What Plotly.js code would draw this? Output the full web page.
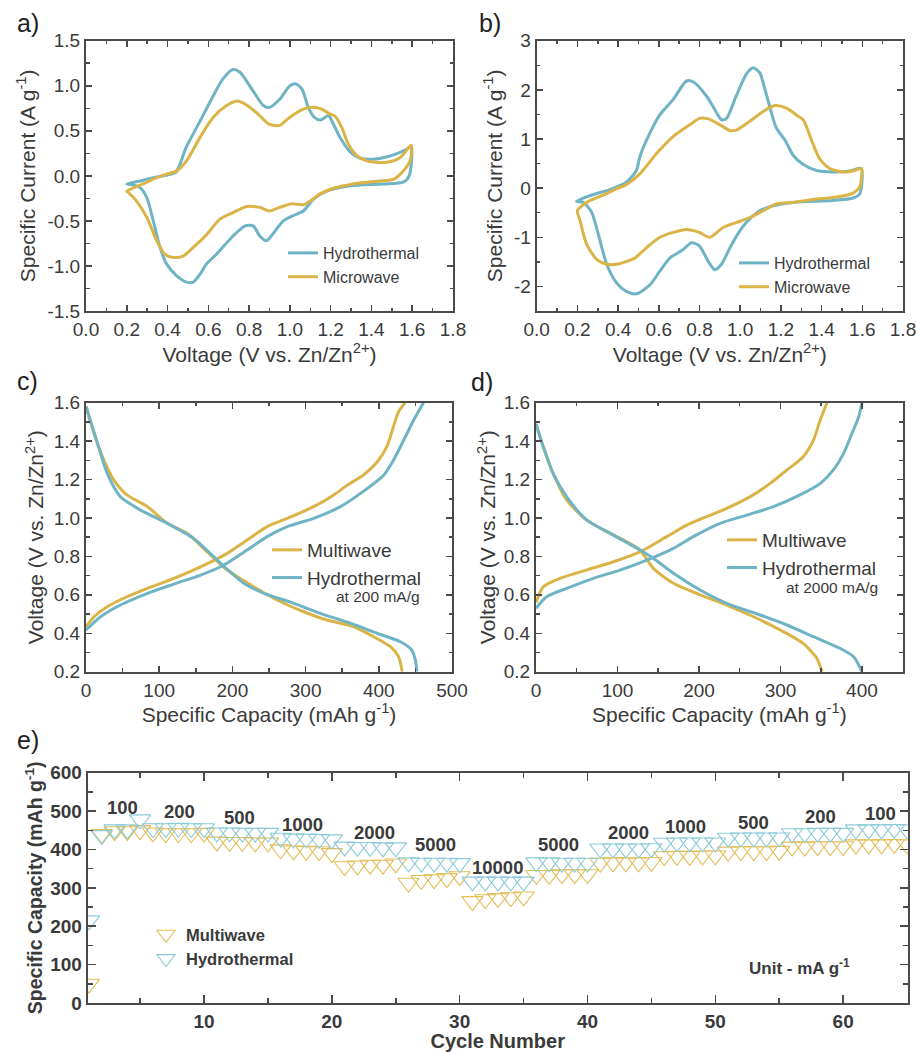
<!DOCTYPE html>
<html><head><meta charset="utf-8">
<script src="https://cdn.plot.ly/plotly-3.0.1.min.js"></script>
<style>html,body{margin:0;padding:0;background:#fff}#chart{width:917px;height:1052px}</style>
</head><body><div id="chart"></div>
<script>
// ---------- Panel a: CV (scan 1) ----------
const aHydroV = [0.20,0.26,0.33,0.40,0.44,0.461,0.49,0.56,0.62,0.67,0.72,0.755,0.82,0.87,0.90,0.95,1.00,1.03,1.06,1.09,1.12,1.15,1.19,1.21,1.245,1.29,1.34,1.41,1.49,1.56,1.595,1.585,1.556,1.46,1.295,1.18,1.115,1.066,1.017,0.968,0.935,0.886,0.853,0.82,0.78,0.72,0.64,0.59,0.56,0.526,0.494,0.445,0.396,0.363,0.33,0.298,0.265,0.23,0.20];
const aHydroI = [-0.09,-0.06,-0.02,0.01,0.04,0.13,0.31,0.61,0.87,1.07,1.18,1.15,0.94,0.78,0.76,0.85,1.00,1.02,0.96,0.76,0.65,0.62,0.67,0.59,0.43,0.28,0.20,0.185,0.22,0.28,0.32,0.0,-0.07,-0.09,-0.11,-0.17,-0.26,-0.39,-0.44,-0.50,-0.59,-0.72,-0.67,-0.555,-0.555,-0.67,-0.87,-0.98,-1.09,-1.18,-1.18,-1.11,-0.98,-0.795,-0.50,-0.24,-0.13,-0.10,-0.09];
const aMicroV = [0.20,0.28,0.347,0.396,0.445,0.494,0.56,0.624,0.69,0.74,0.77,0.837,0.90,0.95,1.00,1.066,1.115,1.156,1.197,1.22,1.254,1.287,1.33,1.39,1.475,1.54,1.595,1.59,1.556,1.507,1.425,1.31,1.21,1.148,1.10,1.066,1.01,0.95,0.90,0.853,0.788,0.72,0.657,0.592,0.526,0.477,0.428,0.387,0.347,0.298,0.248,0.208,0.20];
const aMicroI = [-0.17,-0.09,-0.02,0.02,0.055,0.17,0.43,0.65,0.78,0.83,0.81,0.70,0.57,0.56,0.65,0.74,0.76,0.74,0.685,0.665,0.54,0.35,0.22,0.16,0.15,0.20,0.34,0.17,0.055,-0.04,-0.06,-0.09,-0.14,-0.20,-0.28,-0.32,-0.31,-0.35,-0.39,-0.35,-0.34,-0.41,-0.48,-0.65,-0.795,-0.89,-0.906,-0.87,-0.72,-0.46,-0.28,-0.185,-0.17];

// ---------- Panel b: CV (scan 2) ----------
const bHydroV = [0.196,0.278,0.36,0.44,0.49,0.507,0.556,0.605,0.67,0.736,0.77,0.835,0.875,0.908,0.933,0.98,1.03,1.064,1.096,1.113,1.145,1.178,1.22,1.26,1.31,1.375,1.456,1.54,1.595,1.587,1.555,1.456,1.26,1.16,1.096,1.03,0.998,0.95,0.908,0.875,0.843,0.80,0.76,0.72,0.655,0.605,0.556,0.49,0.44,0.393,0.344,0.303,0.27,0.229,0.196];
const bHydroI = [-0.27,-0.13,-0.03,0.12,0.36,0.64,1.12,1.49,1.80,2.18,2.16,1.87,1.60,1.39,1.42,1.87,2.32,2.45,2.35,2.14,1.66,1.22,0.98,0.67,0.48,0.36,0.33,0.35,0.40,-0.12,-0.20,-0.25,-0.29,-0.36,-0.46,-0.70,-0.87,-1.21,-1.55,-1.66,-1.49,-1.18,-1.11,-1.25,-1.42,-1.69,-1.97,-2.15,-2.10,-1.93,-1.55,-0.94,-0.49,-0.29,-0.27];
const bMicroV = [0.20,0.245,0.327,0.393,0.44,0.507,0.59,0.67,0.753,0.80,0.843,0.90,0.95,0.98,1.047,1.113,1.17,1.227,1.276,1.31,1.35,1.39,1.44,1.505,1.563,1.595,1.587,1.555,1.473,1.34,1.26,1.178,1.113,1.047,0.98,0.916,0.85,0.80,0.736,0.67,0.605,0.54,0.483,0.442,0.393,0.344,0.295,0.245,0.213,0.20];
const bMicroI = [-0.46,-0.29,-0.14,-0.01,0.07,0.29,0.71,1.05,1.29,1.42,1.41,1.29,1.17,1.18,1.36,1.56,1.68,1.63,1.49,1.39,0.98,0.60,0.40,0.33,0.36,0.40,0.02,-0.10,-0.18,-0.24,-0.29,-0.32,-0.46,-0.60,-0.70,-0.80,-1.00,-0.90,-0.84,-0.90,-1.00,-1.21,-1.42,-1.49,-1.55,-1.55,-1.45,-1.14,-0.66,-0.46];

// ---------- Panel c: GCD at 200 mA/g ----------
const cMultiChgC = [0,11,29,56,84,120,156.5,193,220,247.5,275,311,338.5,357,379,398,411,420,427,436];
const cMultiChgV = [0.434,0.486,0.538,0.59,0.634,0.686,0.746,0.816,0.885,0.955,0.998,1.059,1.12,1.171,1.224,1.293,1.371,1.475,1.553,1.60];
const cHydroChgC = [0,20,47,84,120,156.5,184,220,247.5,275,311,347.6,375,407,420,434,447.7,461];
const cHydroChgV = [0.417,0.486,0.547,0.608,0.656,0.703,0.746,0.833,0.903,0.955,0.998,1.059,1.128,1.224,1.30,1.405,1.51,1.60];
const cMultiDisC = [0,11,24.6,38,56,84,111,138,165.6,193,229,266,297.5,329,366,393,416,427,432];
const cMultiDisV = [1.58,1.44,1.30,1.197,1.12,1.059,0.972,0.92,0.824,0.729,0.642,0.564,0.512,0.469,0.434,0.382,0.33,0.278,0.20];
const cHydroDisC = [0,15.5,29,47,74.6,111,147,184,215.6,243,284,320,361,397.6,429.5,445,450,452];
const cHydroDisV = [1.58,1.39,1.232,1.11,1.041,0.972,0.894,0.764,0.66,0.608,0.556,0.504,0.452,0.40,0.356,0.313,0.26,0.20];

// ---------- Panel d: GCD at 2000 mA/g ----------
const dMultiChgC = [0,9,29.5,62,95,127.7,160.5,185,209.6,234,263,287.4,308,328,340.6,348.8,357];
const dMultiChgV = [0.56,0.642,0.686,0.729,0.772,0.824,0.903,0.963,1.007,1.05,1.111,1.18,1.25,1.319,1.406,1.51,1.60];
const dHydroChgC = [0,13,37.7,70.4,103,136,168.7,193,226,258.8,291.5,324,349,365,377.5,387.7,396,400];
const dHydroChgV = [0.53,0.59,0.634,0.686,0.729,0.781,0.842,0.903,0.972,1.015,1.059,1.12,1.18,1.25,1.336,1.44,1.527,1.60];
const dMultiDisC = [0,9,21,37.7,62,86.8,111,127.7,144,168.7,201.4,234,267,299.7,328,344.7,351];
const dMultiDisV = [1.49,1.37,1.232,1.093,0.99,0.929,0.877,0.833,0.738,0.66,0.60,0.547,0.486,0.417,0.347,0.269,0.20];
const dHydroDisC = [0,9,21,37.7,62,95,127.7,144,168.7,201.4,234,275,308,340.6,373.4,389.8,400];
const dHydroDisV = [1.49,1.37,1.232,1.11,0.99,0.911,0.833,0.79,0.712,0.625,0.556,0.495,0.443,0.382,0.321,0.278,0.20];

// ---------- Panel e: rate capability ----------
const cycles = [1,2,3,4,5,6,7,8,9,10,11,12,13,14,15,16,17,18,19,20,21,22,23,24,25,26,27,28,29,30,31,32,33,34,35,36,37,38,39,40,41,42,43,44,45,46,47,48,49,50,51,52,53,54,55,56,57,58,59,60,61,62,63,64,65];
const eHydro = [215,437,452,452,478,455,455,456,455,455,444,444,443,443,443,430,428,428,427,426,407,406,406,405,405,366,365,365,365,364,316,316,316,316,316,366,366,365,365,365,402,402,402,402,403,417,418,418,418,418,430,431,431,431,431,442,442,443,443,443,452,452,452,453,452];
const eMulti = [50,440,447,447,450,444,442,442,442,443,420,419,419,418,418,400,397,396,395,390,356,358,360,360,363,313,320,322,325,330,265,270,273,275,277,333,333,335,335,335,365,366,366,366,367,382,383,383,384,384,394,395,395,395,396,407,407,408,408,408,413,413,413,414,413];
const rateLabels = ['100','200','500','1000','2000','5000','10000','5000','2000','1000','500','200','100'];
const rateLabelCycle = [3.6,8.1,12.8,17.7,23.3,28.1,32.95,37.7,43.2,47.7,53.0,58.2,62.9];
const rateLabelCap = [509,499,482,465,444,413,354,413,444,461,470,486,494];

// tick labels
const aYVals = [-1.5,-1,-0.5,0,0.5,1,1.5];
const aYText = ['-1.5','-1.0','-0.5','0.0','0.5','1.0','1.5'];
const bYVals = [-2,-1,0,1,2,3];
const bYText = ['-2','-1','0','1','2','3'];

const FONT = 'Arial, "Liberation Sans", Helvetica, sans-serif';
const TXT = '#3a3a3a';
const AXC = '#4a4a4a';
const TEAL = '#6fb4c4';
const GOLD = '#dbb447';
const TEAL_E = '#8ccad8';
const GOLD_E = '#e2be5a';

function join(a, b) { return a.concat([null], b); }

function line(x, y, name, color, xa, ya, leg) {
  return {x: x, y: y, name: name, type: 'scatter', mode: 'lines', xaxis: xa, yaxis: ya,
    legend: leg, connectgaps: false,
    line: {color: color, width: 3, shape: 'spline', smoothing: 0.7}};
}

const traces = [
  line(aHydroV, aHydroI, 'Hydrothermal', TEAL, 'x', 'y', 'legend'),
  line(aMicroV, aMicroI, 'Microwave', GOLD, 'x', 'y', 'legend'),
  line(bHydroV, bHydroI, 'Hydrothermal', TEAL, 'x2', 'y2', 'legend2'),
  line(bMicroV, bMicroI, 'Microwave', GOLD, 'x2', 'y2', 'legend2'),
  line(join(cMultiChgC, cMultiDisC), join(cMultiChgV, cMultiDisV), 'Multiwave', GOLD, 'x3', 'y3', 'legend3'),
  line(join(cHydroChgC, cHydroDisC), join(cHydroChgV, cHydroDisV), 'Hydrothermal', TEAL, 'x3', 'y3', 'legend3'),
  line(join(dMultiChgC, dMultiDisC), join(dMultiChgV, dMultiDisV), 'Multiwave', GOLD, 'x4', 'y4', 'legend4'),
  line(join(dHydroChgC, dHydroDisC), join(dHydroChgV, dHydroDisV), 'Hydrothermal', TEAL, 'x4', 'y4', 'legend4'),
  {x: cycles, y: eMulti, name: 'Multiwave', type: 'scatter', mode: 'markers', xaxis: 'x5', yaxis: 'y5', legend: 'legend5', cliponaxis: true,
    marker: {symbol: 'triangle-down-open', size: 18.5, color: GOLD_E, line: {width: 1.1, color: GOLD_E}}},
  {x: cycles, y: eHydro, name: 'Hydrothermal', type: 'scatter', mode: 'markers', xaxis: 'x5', yaxis: 'y5', legend: 'legend5', cliponaxis: true,
    marker: {symbol: 'triangle-down-open', size: 18.5, color: TEAL_E, line: {width: 1.1, color: TEAL_E}}}
];

function ax(extra, minorDtick, bold) {
  const o = {
    showline: true, linecolor: AXC, linewidth: 2, mirror: 'allticks',
    ticks: 'inside', ticklen: 6, tickwidth: 1.5, tickcolor: AXC,
    showgrid: false, zeroline: false, automargin: false,
    tickfont: {family: FONT, size: 19, color: TXT, weight: bold ? 'bold' : 'normal'},
    minor: {ticks: 'inside', ticklen: 3.5, tickwidth: 1.5, tickcolor: AXC, dtick: minorDtick, showgrid: false}
  };
  return Object.assign(o, extra);
}
function ttl(text, standoff, size, bold) {
  return {text: text, standoff: standoff, font: {family: FONT, size: size || 21, color: TXT, weight: bold ? 'bold' : 'normal'}};
}

const W = 917, H = 1052;
const px = v => v / W, py = v => 1 - v / H;

const VOLT = 'Voltage (V vs. Zn/Zn<sup>2+</sup>)';
const CURR = 'Specific Current (A g<sup>-1</sup>)';
const CAP = 'Specific Capacity (mAh g<sup>-1</sup>)';

function leg(x, ytop, size, bold) {
  return {x: px(x), y: py(ytop), xanchor: 'left', yanchor: 'top', bgcolor: 'rgba(0,0,0,0)',
    font: {family: FONT, size: size, color: TXT, weight: bold ? 'bold' : 'normal'}, tracegroupgap: 0};
}

const annotations = [
  ['a)', 15, 23], ['b)', 477, 23], ['c)', 15, 381], ['d)', 469, 382], ['e)', 15, 740]
].map(p => ({text: p[0], x: px(p[1]), y: py(p[2]), xref: 'paper', yref: 'paper', xanchor: 'left', yanchor: 'middle',
  showarrow: false, font: {family: FONT, size: 25, color: '#222'}}));

annotations.push({text: 'at 200 mA/g', x: px(378), y: py(596), xref: 'paper', yref: 'paper', xanchor: 'center', yanchor: 'middle',
  showarrow: false, font: {family: FONT, size: 15.5, color: TXT}});
annotations.push({text: 'at 2000 mA/g', x: px(832), y: py(587), xref: 'paper', yref: 'paper', xanchor: 'center', yanchor: 'middle',
  showarrow: false, font: {family: FONT, size: 15.5, color: TXT}});
annotations.push({text: 'Unit - mA g<sup>-1</sup>', x: px(747), y: py(967), xref: 'paper', yref: 'paper', xanchor: 'left', yanchor: 'middle',
  showarrow: false, font: {family: FONT, size: 17, color: TXT, weight: 'bold'}});
rateLabels.forEach((t, i) => annotations.push({text: t, x: rateLabelCycle[i], y: rateLabelCap[i], xref: 'x5', yref: 'y5',
  xanchor: 'center', yanchor: 'middle', showarrow: false, font: {family: FONT, size: 18.5, color: TXT, weight: 'bold'}}));

const layout = {
  width: W, height: H, margin: {l: 0, r: 0, t: 0, b: 0}, paper_bgcolor: '#fff', plot_bgcolor: '#fff',
  font: {family: FONT, color: TXT},
  showlegend: true,
  xaxis: ax({domain: [px(86), px(453)], anchor: 'y', range: [0, 1.8], dtick: 0.2, tick0: 0, tickformat: '.1f', title: ttl(VOLT, 8)}, 0.1),
  yaxis: ax({domain: [py(311), py(40.7)], anchor: 'x', range: [-1.5, 1.5], tickmode: 'array', tickvals: aYVals, ticktext: aYText, title: ttl(CURR, 6)}, 0.25),
  xaxis2: ax({domain: [px(536.7), px(903)], anchor: 'y2', range: [0, 1.8], dtick: 0.2, tick0: 0, tickformat: '.1f', title: ttl(VOLT, 8)}, 0.1),
  yaxis2: ax({domain: [py(311), py(40.7)], anchor: 'x2', range: [-2.5, 3], tickmode: 'array', tickvals: bYVals, ticktext: bYText, title: ttl(CURR, 6)}, 0.5),
  xaxis3: ax({domain: [px(86), px(452)], anchor: 'y3', range: [0, 500], dtick: 100, tick0: 0, title: ttl(CAP, 5)}, 50),
  yaxis3: ax({domain: [py(671.7), py(402.7)], anchor: 'x3', range: [0.2, 1.6], dtick: 0.2, tick0: 0, tickformat: '.1f', title: ttl(VOLT, 4)}, 0.1),
  xaxis4: ax({domain: [px(536), px(902.7)], anchor: 'y4', range: [0, 450], dtick: 100, tick0: 0, title: ttl(CAP, 5)}, 50),
  yaxis4: ax({domain: [py(671.7), py(402.7)], anchor: 'x4', range: [0.2, 1.6], dtick: 0.2, tick0: 0, tickformat: '.1f', title: ttl(VOLT, 2)}, 0.1),
  xaxis5: ax({domain: [px(87.7), px(907.7)], anchor: 'y5', range: [0.9, 65.05], dtick: 10, tick0: 0, ticklen: 8, title: ttl('Cycle Number', 6, 20, true)}, 5, true),
  yaxis5: ax({domain: [py(1003), py(772.7)], anchor: 'x5', range: [0, 600], dtick: 100, tick0: 0, ticklen: 8, title: ttl(CAP, 2, 19.5, true)}, 50, true),
  legend: leg(283, 236, 16),
  legend2: leg(734, 246, 16),
  legend3: leg(267, 531, 19),
  legend4: leg(722, 521, 19),
  legend5: leg(146, 917, 16.5, true),
  annotations: annotations
};
layout.xaxis5.minor.ticklen = 5;
layout.yaxis5.minor.ticklen = 5;

Plotly.newPlot('chart', traces, layout, {displayModeBar: false, staticPlot: true});
</script>
</body></html>
